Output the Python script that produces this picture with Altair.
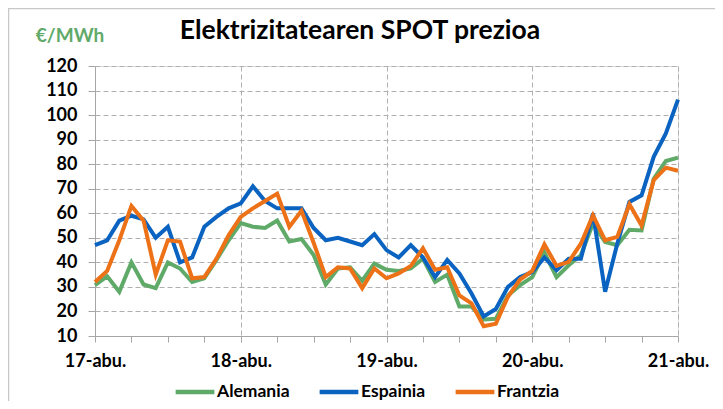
import altair as alt
import pandas as pd

# --- data (2-hourly, 17-abu. 00:00 to 21-abu. 00:00) ---
series_names = ["Alemania", "Espainia", "Frantzia"]
day_labels = ["17-abu.", "18-abu.", "19-abu.", "20-abu.", "21-abu."]
hours = list(range(0, 97, 2))

alemania = [30.7, 34.3, 28, 40, 31, 29.5, 40, 37.5, 32, 33.5, 41, 49,
            56, 54.5, 54, 57, 48.5, 49.5, 43, 31, 37.5, 38, 32.5, 39.5,
            37, 36.5, 37.5, 41.5, 32, 35, 22, 22, 16.7, 17, 26.5, 30.7,
            34, 44, 34, 38.8, 42.9, 55.8, 48.3, 47, 53.3, 53, 74, 81.3, 82.7]
espainia = [47, 49, 57, 59, 57.5, 50, 54.5, 40, 42, 54.5, 58.5, 62,
            64, 71, 65, 62, 62, 62, 54, 49, 50, 48.5, 47, 51.5,
            45, 42, 47, 42, 34, 41, 35.5, 27.3, 18, 21, 30, 34,
            36, 42, 36.8, 41.5, 41.5, 59.9, 28, 47.6, 64.6, 67.3, 83, 92.5, 106.3]
frantzia = [32, 36.5, 49, 63, 57, 35, 49, 48.5, 33.5, 34, 41.5, 51,
            58.5, 62, 65, 68, 54.5, 61, 48, 34, 38, 37.5, 29.5, 37.5,
            33.5, 35.5, 38.5, 45.7, 37, 38, 26.5, 23.3, 14, 15, 26, 33,
            36.5, 47.3, 38.6, 40.2, 47.6, 59.2, 49, 50.4, 63.7, 55, 73.5, 78.6, 77.3]
colors = ["#5faa68", "#0a63c0", "#ed7117"]

rows = []
for name, vals in zip(series_names, [alemania, espainia, frantzia]):
    for h, v in zip(hours, vals):
        rows.append({"hour": h, "value": v, "series": name})
df = pd.DataFrame(rows)

FONT = "Lato"
FS = 18
W, H = 583, 270
label_arr = "[" + ",".join("'%s'" % d for d in day_labels) + "]"

x_axis = alt.Axis(
    values=list(range(0, 97, 6)),
    labelExpr="datum.value % 24 == 0 ? " + label_arr + "[datum.value/24] : ''",
    title=None,
    grid=True,
    gridDash=[5, 3],
    gridColor="#b0b0b0",
    gridOpacity={"condition": {"test": "datum.value % 24 == 0 && datum.value > 0", "value": 1}, "value": 0},
    domainColor="#a6a6a6",
    tickColor="#a6a6a6",
    tickSize=6,
    labelFont=FONT,
    labelFontSize=FS,
    labelFontWeight="bold",
    labelColor="#000000",
    labelPadding=10,
    labelFlush=False,
    labelOverlap=False,
)
y_axis = alt.Axis(
    values=list(range(10, 121, 10)),
    title=None,
    grid=True,
    gridDash=[5, 3],
    gridColor="#b0b0b0",
    domainColor="#a6a6a6",
    tickColor="#a6a6a6",
    tickSize=7,
    labelFont=FONT,
    labelFontSize=FS,
    labelFontWeight="bold",
    labelColor="#000000",
    labelPadding=11,
)

lines = alt.Chart(df).mark_line(strokeWidth=4, strokeJoin="miter").encode(
    x=alt.X("hour:Q", scale=alt.Scale(domain=[0, 96], nice=False), axis=x_axis),
    y=alt.Y("value:Q", scale=alt.Scale(domain=[10, 120], nice=False), axis=y_axis),
    color=alt.Color(
        "series:N",
        scale=alt.Scale(domain=series_names, range=colors),
        legend=alt.Legend(
            title=None,
            orient="none",
            legendX=78,
            legendY=304,
            direction="horizontal",
            symbolType="stroke",
            symbolSize=1500,
            symbolStrokeWidth=4.5,
            labelFont=FONT,
            labelFontSize=17.5,
            labelFontWeight="bold",
            labelColor="#000000",
            labelOffset=0,
            columnPadding=20,
        ),
    ),
)

one = pd.DataFrame({"k": [0]})
border = alt.Chart(one).mark_rect(fillOpacity=0, stroke="#c8c8c8", strokeWidth=1.5).encode(
    x=alt.value(-86.5), x2=alt.value(621), y=alt.value(-57.5), y2=alt.value(360)
)
unit = alt.Chart(one).mark_text(
    font=FONT, fontSize=19, fontWeight="bold", color="#5faa68", align="center", baseline="alphabetic"
).encode(x=alt.value(-25), y=alt.value(-24), text=alt.value("€/MWh"))
title = alt.Chart(one).mark_text(
    font=FONT, fontSize=26.5, fontWeight="bold", color="#000000", align="center", baseline="alphabetic"
).encode(x=alt.value(265), y=alt.value(-27), text=alt.value("Elektrizitatearen SPOT prezioa"))

chart = alt.layer(border, lines, unit, title).properties(
    width=W,
    height=H,
    autosize=alt.AutoSizeParams(type="none"),
    padding={"left": 87, "top": 58, "right": 37, "bottom": 65},
).configure_view(stroke=None).configure(background="white")

chart.save("out.html", embed_options={"renderer": "svg", "actions": False})
